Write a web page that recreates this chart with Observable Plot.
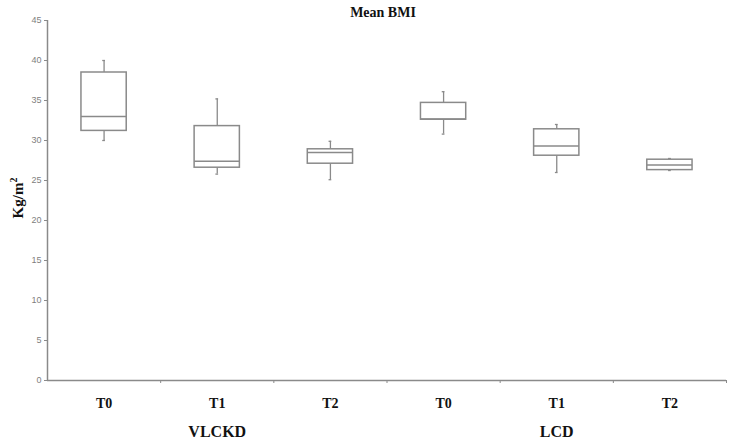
<!DOCTYPE html>
<html>
<head>
<meta charset="utf-8">
<script src="https://cdn.jsdelivr.net/npm/d3@7"></script>
<script src="https://cdn.jsdelivr.net/npm/@observablehq/plot@0.6"></script>
<style>
  html, body { margin: 0; padding: 0; background: #fff; }
  #chart { position: relative; width: 733px; height: 442px; }
  #title { position: absolute; top: 5px; left: 0; width: 766px; text-align: center;
    font: bold 14px "Liberation Serif", "DejaVu Serif", serif; color: #111; }
  #ylab { position: absolute; left: 17px; top: 198px; transform: translate(-50%, -50%) rotate(-90deg);
    font: bold 15px "Liberation Serif", "DejaVu Serif", serif; color: #111; white-space: nowrap; }
  #ylab sup { font-size: 10px; }
  #plot { position: absolute; left: 0; top: 0; }
</style>
</head>
<body>
<div id="chart">
  <div id="plot"></div>
  <div id="title">Mean BMI</div>
  <div id="ylab">Kg/m<sup>2</sup></div>
</div>
<script>
const groups = ["VLCKD", "VLCKD", "VLCKD", "LCD", "LCD", "LCD"];
const times = ["T0", "T1", "T2", "T0", "T1", "T2"];
const whiskerLow = [30.0, 25.8, 25.1, 30.8, 26.0, 26.25];
const q1 = [31.2, 26.6, 27.1, 32.6, 28.1, 26.3];
const median = [33.0, 27.4, 28.5, 32.7, 29.3, 26.95];
const q3 = [38.5, 31.8, 28.9, 34.7, 31.4, 27.6];
const whiskerHigh = [40.0, 35.2, 29.9, 36.1, 32.0, 27.75];
const yTicks = [0, 5, 10, 15, 20, 25, 30, 35, 40, 45];
const groupNames = ["VLCKD", "LCD"];

const data = times.map((t, i) => ({
  i, pos: i + 0.5, group: groups[i], time: t,
  lo: whiskerLow[i], q1: q1[i], med: median[i], q3: q3[i], hi: whiskerHigh[i]
}));
const half = 0.2;
const groupCenters = groupNames.map((g, k) => k * 3 + 1.5);

const gray = "#8a8a8a";
const serif = "'Liberation Serif', 'DejaVu Serif', serif";

const plot = Plot.plot({
  width: 733,
  height: 442,
  marginLeft: 47,
  marginRight: 7,
  marginTop: 20,
  marginBottom: 62,
  style: { background: "transparent", overflow: "visible" },
  x: { domain: [0, 6], axis: null },
  y: { domain: [0, 45], axis: null },
  marks: [
    Plot.axisY({ ticks: yTicks, tickSize: 3, tickPadding: 3, stroke: gray, color: "#808080",
      fontSize: 9, fontFamily: "Arial, 'Liberation Sans', sans-serif", label: null }),
    Plot.ruleX([0], { stroke: gray, strokeWidth: 1.5 }),
    Plot.ruleY([0], { stroke: gray, strokeWidth: 1.5 }),
    Plot.axisX({ ticks: [1, 2, 3, 4, 5, 6], tickFormat: () => "", tickSize: 3, stroke: gray, label: null }),
    Plot.axisX({ ticks: data.map(d => d.pos), tickFormat: (v) => times[Math.floor(v)], tickSize: 0,
      tickPadding: 18, fontSize: 14, fontWeight: "bold", fontFamily: serif, color: "#111", label: null }),
    Plot.axisX({ ticks: groupCenters, tickFormat: (v) => groupNames[Math.floor(v / 3)], tickSize: 0,
      tickPadding: 45, fontSize: 16, fontWeight: "bold", fontFamily: serif, color: "#111", label: null }),
    Plot.ruleX(data, { x: "pos", y1: "lo", y2: "q1", stroke: gray, strokeWidth: 1.3 }),
    Plot.ruleX(data, { x: "pos", y1: "q3", y2: "hi", stroke: gray, strokeWidth: 1.3 }),
    Plot.ruleY(data, { y: "lo", x1: d => d.pos - 0.012, x2: d => d.pos + 0.012, stroke: gray, strokeWidth: 1.3 }),
    Plot.ruleY(data, { y: "hi", x1: d => d.pos - 0.012, x2: d => d.pos + 0.012, stroke: gray, strokeWidth: 1.3 }),
    Plot.rect(data, { x1: d => d.pos - half, x2: d => d.pos + half, y1: "q1", y2: "q3",
      fill: "white", stroke: gray, strokeWidth: 1.5 }),
    Plot.ruleY(data, { y: "med", x1: d => d.pos - half, x2: d => d.pos + half, stroke: gray, strokeWidth: 1.5 })
  ]
});
document.getElementById("plot").appendChild(plot);
</script>
</body>
</html>
